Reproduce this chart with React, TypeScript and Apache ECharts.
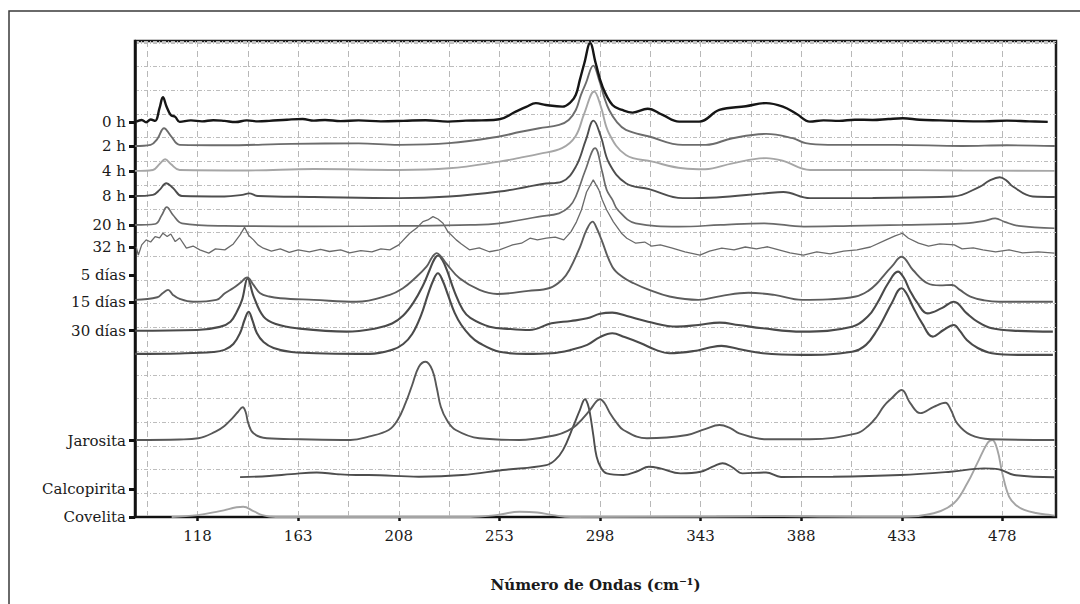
import React, { useEffect, useRef } from "react";
import * as echarts from "echarts";

// ---- axis ticks / labels ----
const xTickValues = [118, 163, 208, 253, 298, 343, 388, 433, 478];
const xGridValues = [95.5, 118, 140.5, 163, 185.5, 208, 230.5, 253, 275.5, 298, 320.5, 343, 365.5, 388, 410.5, 433, 455.5, 478];
const yLabelNames = ["0 h", "2 h", "4 h", "8 h", "20 h", "32 h", "5 días", "15 días", "30 días", "Jarosita", "Calcopirita", "Covelita"];
const yLabelValues = [166.5, 156.5, 146, 135.4, 123.2, 113.8, 102.1, 90.8, 78.6, 32.2, 11.7, 0];

// ---- spectra: [wavenumber cm-1, stacked intensity] ----
const s0h = [[90.5,166.8],[93,167.5],[95,166.5],[97,167.7],[99,167.1],[101,172.6],[102.5,177.1],[104,173.4],[106,169.6],[108,168.8],[110,166.7],[115,167.3],[120,166.9],[125,167.4],[130,167.1],[135,166.6],[140,167.3],[145,166.9],[150,167.1],[158,167.6],[165,167.9],[170,167.2],[175,167.5],[182,167.0],[190,167.3],[200,166.9],[210,167.1],[220,167.4],[230,166.8],[238,167.2],[245,167.3],[253,167.8],[260.3,171.0],[265,173.0],[269.3,174.6],[273.8,173.8],[281.2,173.1],[285,175.1],[287.2,178.1],[289,184.4],[291,191.4],[293.6,199.9],[296.1,191.4],[299.1,181.6],[303.6,173.8],[308,171.7],[312.6,170.6],[319.3,172.2],[326,169.6],[333.4,166.8],[342.4,166.8],[351.4,171.7],[363.3,173.3],[372.3,174.6],[379.8,173.1],[386,170.0],[391.9,166.8],[398,167.3],[405,167.1],[412,167.6],[420,167.5],[427,167.9],[433.5,168.2],[441,167.6],[450,167.3],[460,167.0],[470,166.9],[480,167.2],[490,166.9],[498.3,166.7]];
const s2h = [[90,156.5],[97,157.0],[100,159.5],[103,164.0],[106,160.8],[110,157.0],[130,156.8],[160,157.4],[190,157.6],[208,157.0],[230.5,157.7],[253,160.5],[262,162.4],[270.8,164.0],[279.7,165.4],[284,167.5],[287.2,171.7],[289.5,178.1],[291.7,183.0],[295,190.4],[297.6,184.4],[300,176.8],[302.1,171.7],[305.5,166.7],[309.6,163.3],[320,160.5],[335,157.0],[345.4,157.0],[357.3,159.8],[372.3,161.6],[384.2,159.8],[390,157.7],[400,157.0],[430,157.0],[460,156.5],[480,156.8],[501.5,156.5]];
const s4h = [[90,146.0],[98,146.4],[101,148.9],[103.5,150.9],[106,148.9],[110,146.4],[140,146.2],[170,146.8],[208,146.4],[230.5,147.1],[253,149.9],[262,151.5],[270.8,153.2],[281,155.6],[287,160.5],[291,170.3],[295.4,179.5],[298.4,173.1],[302,161.9],[309.6,152.7],[321.5,149.9],[335,147.1],[345,146.7],[357.3,149.2],[372.3,151.4],[380,150.2],[392,146.4],[420,146.4],[460,146.2],[501.5,146.0]];
const s8h = [[90,135.4],[98,135.9],[101,138.0],[104,140.8],[107,138.8],[111,135.4],[130,135.2],[138,135.9],[141,136.5],[145,135.4],[170,135.0],[208,134.5],[230.5,135.2],[253,137.3],[265,139.2],[272.3,140.5],[281,141.5],[287.2,147.8],[291.7,159.1],[295.1,167.2],[298.4,160.5],[302.1,149.2],[309.6,140.8],[320,138.3],[335,134.5],[350,134.8],[372.3,136.6],[380,137.1],[392,134.5],[420,134.6],[456,135.2],[468,139.4],[472,141.8],[476.8,143.3],[480,141.8],[482.7,139.4],[491.6,135.2],[501.5,135.0]];
const s20h = [[90,123.2],[99,123.6],[102,127.4],[104.2,130.7],[107,127.4],[111,123.9],[130,122.8],[170,122.6],[210,122.8],[240,123.2],[253,123.9],[270.8,126.7],[279.7,128.1],[284.3,130.9],[287.2,135.2],[291.5,146.4],[295.8,155.6],[299,145.6],[301,138.0],[303.6,133.8],[306,129.5],[314,123.9],[333.3,122.5],[352,123.2],[371.6,123.9],[389.2,122.5],[410,122.8],[433.3,123.2],[461.2,123.9],[470,124.9],[474.8,126.0],[479,124.5],[485.3,122.8],[501.3,121.8]];
const s32h = [[90.5,114.0],[91.5,110.5],[93,114.8],[95,116.9],[97,116.0],[99,118.3],[101,117.7],[102.5,119.7],[104.4,118.3],[106,119.4],[108,116.2],[110,117.7],[113,113.4],[116,114.3],[119,112.7],[123,111.3],[126,113.1],[130.2,112.7],[134,115.2],[137,119.0],[139,122.2],[141,118.6],[143,116.9],[145,114.8],[147.4,113.4],[151,112.2],[155,113.1],[159,111.6],[163,112.7],[168,111.8],[173,112.9],[177,112.0],[182,112.7],[186,111.4],[191,112.4],[196,111.8],[200,113.1],[204,112.7],[208,114.8],[212.9,119.7],[216,121.9],[218.8,124.6],[221,125.3],[223.3,126.7],[225.5,125.7],[227.8,123.9],[230,120.3],[233.7,116.9],[236,115.2],[239.6,112.7],[244,113.5],[248.5,111.9],[253,112.7],[258.9,114.8],[262.9,115.5],[266.7,117.6],[270,116.9],[274,117.6],[278,118.1],[281.8,116.9],[285,120.3],[287.5,124.5],[289.7,129.5],[292,137.1],[295,142.2],[297.5,138.0],[299,133.8],[301,129.5],[304,124.5],[307.6,119.7],[310,117.6],[314,115.5],[318,116.0],[321,114.3],[325,114.8],[330,113.5],[336,111.8],[342.7,110.5],[347,112.2],[352.5,113.4],[358,112.7],[363,113.9],[368,113.1],[373,114.0],[378,112.7],[383,111.4],[389,110.5],[395,111.8],[401,111.0],[407,112.2],[413,112.7],[419,113.9],[426,116.9],[430,118.6],[433.3,119.7],[436,117.6],[440.5,115.5],[445,114.3],[450,115.2],[456.5,114.8],[460,113.1],[465,113.5],[469.3,112.7],[475,111.8],[481,112.7],[487,111.4],[494,111.8],[501.3,111.3]];
const s5d = [[90,91.6],[100,92.7],[102.5,94.5],[104.8,95.8],[107,93.7],[110,92.0],[116,90.8],[126.4,91.6],[130.2,94.4],[134,96.6],[137,98.7],[140.2,101.1],[143,97.9],[146,94.4],[150,93.0],[155,92.3],[170,91.6],[189,90.8],[204,93.7],[210,96.6],[214.4,100.0],[220.4,105.6],[223,109.7],[225,111.3],[227,109.7],[229.2,107.0],[235.2,100.7],[244.1,95.8],[252,94.1],[266,95.4],[275.5,96.6],[281,100.0],[284.3,104.2],[289.1,114.0],[292,121.1],[294.7,124.6],[296.5,121.9],[298.7,116.9],[303.5,105.6],[308,101.3],[313.1,98.6],[320,95.8],[329.1,93.0],[342,91.6],[352,93.2],[364.4,94.6],[376,93.7],[388.4,91.6],[400,91.8],[412.4,93.0],[418,95.4],[422,98.6],[425.5,102.5],[428.5,105.6],[432.9,109.8],[438,104.2],[444.5,98.6],[450,97.7],[455.6,97.9],[459,95.8],[463.7,93.0],[470,91.4],[476.5,90.8],[500.6,90.8]];
const s15d = [[90,78.6],[117.8,78.9],[128,80.2],[132.7,82.4],[135.5,86.5],[137.9,91.6],[140.4,100.6],[143.1,93.0],[147.5,84.5],[153,81.4],[162.4,79.6],[184.6,78.2],[198,79.6],[205,81.6],[210,85.0],[214.4,90.2],[218.5,97.0],[221.8,104.2],[224,108.9],[225.6,110.3],[227.5,108.4],[229.5,104.2],[233,94.9],[236.7,87.3],[240,84.0],[248.6,80.3],[258,79.3],[266.5,78.9],[276.3,81.7],[285,82.7],[292.3,83.8],[298,85.7],[303.5,86.2],[310,84.8],[319.5,82.4],[332.4,80.3],[342,81.0],[351.6,82.0],[360,81.0],[370.8,79.6],[388.4,78.2],[410.8,80.3],[418,84.8],[422,90.2],[426.9,98.6],[431.3,103.5],[434,100.8],[436.5,95.8],[440,90.3],[444.5,85.9],[450.9,88.1],[456.3,90.8],[462.1,85.9],[467,82.3],[473.3,79.6],[485,78.5],[500.6,78.2]];
const s30d = [[90,68.8],[110,69.0],[125,69.6],[130,70.5],[134,73.0],[137,77.6],[139,83.1],[140.8,86.6],[142.5,83.1],[144.5,77.6],[147.5,73.8],[152,71.3],[160,69.6],[175,69.0],[195,68.8],[205,70.5],[210,73.0],[214,77.2],[218,85.2],[221,93.7],[223.5,100.0],[225.5,102.8],[227.5,100.0],[230,93.7],[233,86.1],[236,81.0],[240,76.4],[244,73.4],[253,69.7],[265,68.8],[276.3,69.1],[285,70.5],[292.3,72.6],[298,75.9],[303.5,77.5],[309,75.9],[316.3,73.3],[323,70.5],[329,69.1],[340,70.0],[347,71.5],[352.4,72.2],[360,70.9],[370.8,69.1],[388.4,68.4],[410.8,69.7],[417,72.6],[422,78.9],[425.5,84.8],[428.5,90.2],[432.9,96.5],[435,94.5],[438,88.7],[442,81.9],[446.9,76.1],[451.7,78.9],[456.3,81.0],[459,78.5],[462.1,74.7],[467,71.3],[473.3,69.1],[485,68.4],[500.6,68.4]];
const sJarosita = [[90.5,32.5],[110,32.7],[118.3,33.2],[126,36.0],[130,38.4],[133.5,41.6],[136,44.3],[138.2,46.3],[139.5,44.3],[140.7,39.5],[143,35.3],[149,33.2],[164,32.8],[186.4,32.5],[194.5,33.9],[203.5,36.7],[207.5,40.9],[211,48.0],[214,55.7],[217,63.4],[220,65.5],[223,62.0],[225,54.4],[226.8,46.5],[229.5,40.9],[233.5,36.7],[244,33.2],[262,32.5],[278.5,34.6],[283.5,36.3],[287.5,38.8],[293.5,45.1],[296.5,48.9],[298,49.7],[300,48.1],[302.5,43.8],[305.5,39.7],[308.5,36.7],[319,33.2],[337,34.6],[345,37.1],[351.5,38.8],[356.5,37.4],[360.3,35.3],[372.3,32.8],[391.8,32.8],[412.8,35.3],[418,38.4],[421.8,42.3],[425,46.8],[428.5,50.1],[433,53.6],[436.8,48.0],[441.3,43.8],[447.3,46.5],[452.5,48.2],[455,45.1],[457.8,39.5],[463.8,34.6],[472.8,32.8],[501.3,32.5]];
const sCalcopirita = [[137,16.8],[150,17.3],[160,18.1],[171.3,18.8],[180,18.1],[189,17.7],[194.5,17.7],[217,17.0],[236.5,17.7],[254.5,19.8],[274,21.9],[278,24.1],[281.5,28.3],[286,38.1],[289,45.1],[291.3,49.7],[292.5,47.7],[293.5,43.8],[295,34.6],[296.5,25.4],[298.5,20.7],[301,18.4],[308.5,17.7],[315,19.4],[319.8,21.2],[325,20.5],[334,18.4],[343,19.1],[349,21.5],[352.8,22.7],[357,21.1],[361.8,18.4],[372.3,18.8],[379,16.9],[402.3,17.0],[432.3,17.7],[454.8,19.1],[469.8,20.5],[476.5,20.1],[483.3,17.7],[501.3,16.8]];
const sCovelita = [[106.4,0],[118,0.8],[128,2.5],[138.4,4.3],[143,2.5],[147,0.8],[153,0],[240,0],[251.5,0.8],[262,2.2],[270,1.9],[277,0.8],[285,0],[350,0.2],[380,0.4],[400,0.2],[432.3,0.1],[447.3,1.6],[456.3,5.8],[462.3,14.2],[466.8,22.7],[471.3,31.1],[473.5,32.5],[475.8,28.3],[478,18.4],[481,8.6],[484,5.1],[487.8,3.0],[493,1.7],[499.8,0.8],[501.5,0.6]];

const seriesNames = ["0 h", "2 h", "4 h", "8 h", "20 h", "32 h", "5 días", "15 días", "30 días", "Jarosita", "Calcopirita", "Covelita"];
const seriesData = [s0h, s2h, s4h, s8h, s20h, s32h, s5d, s15d, s30d, sJarosita, sCalcopirita, sCovelita];

const styles = [
  { color: "#161616", width: 2.4, smooth: 0.4 },
  { color: "#6c6c6c", width: 1.9, smooth: 0.4 },
  { color: "#a6a6a6", width: 1.9, smooth: 0.4 },
  { color: "#4e4e4e", width: 1.9, smooth: 0.4 },
  { color: "#6a6a6a", width: 1.7, smooth: 0.4 },
  { color: "#6a6a6a", width: 1.3, smooth: false },
  { color: "#5c5c5c", width: 1.9, smooth: 0.4 },
  { color: "#4a4a4a", width: 2.1, smooth: 0.4 },
  { color: "#4a4a4a", width: 2.1, smooth: 0.4 },
  { color: "#585858", width: 1.9, smooth: 0.4 },
  { color: "#4e4e4e", width: 1.9, smooth: 0.4 },
  { color: "#a4a4a4", width: 1.9, smooth: 0.4 },
];

const FONT = "DejaVu Serif";

export default function App() {
  const ref = useRef<HTMLDivElement>(null);
  useEffect(() => {
    document.body.style.margin = "0";
    if (!ref.current) return;
    const chart = echarts.init(ref.current, undefined, { renderer: "svg" });
    const labelFor = (v: number) => {
      for (let i = 0; i < yLabelValues.length; i++) {
        if (Math.abs(yLabelValues[i] - v) < 0.01) return yLabelNames[i];
      }
      return "";
    };
    chart.setOption({
      animation: false,
      backgroundColor: "#ffffff",
      graphic: [
        {
          type: "rect",
          silent: true,
          shape: { x: 9, y: 11, width: 1200, height: 800 },
          style: { fill: "none", stroke: "#3a3a3a", lineWidth: 1.5 },
        },
      ],
      grid: {
        left: 135,
        right: 24,
        top: 41,
        bottom: 87,
        show: true,
        borderColor: "#1e1e1e",
        borderWidth: 2.5,
        containLabel: false,
      },
      xAxis: [
        {
          type: "value",
          min: 90,
          max: 502,
          position: "bottom",
          axisLine: { show: true, lineStyle: { color: "#111", width: 2 } },
          axisTick: { show: true, customValues: xTickValues, length: 4, lineStyle: { color: "#111", width: 2.5 } },
          axisLabel: { customValues: xTickValues, margin: 11, fontFamily: FONT, fontSize: 15, color: "#1a1a1a" },
          splitLine: { show: false },
          name: "Número de Ondas (cm⁻¹)",
          nameLocation: "middle",
          nameGap: 60,
          nameTextStyle: { fontFamily: FONT, fontSize: 15, fontWeight: "bold", color: "#1a1a1a" },
        },
        {
          type: "value",
          min: 90,
          max: 502,
          position: "bottom",
          axisLine: { show: false },
          axisTick: { show: false, customValues: xGridValues },
          axisLabel: { show: false, customValues: xGridValues },
          splitLine: { show: true, lineStyle: { color: "#b8b8b8", width: 1, type: [6, 4] } },
        },
      ],
      yAxis: [
        {
          type: "value",
          min: 0,
          max: 200.8,
          interval: 10,
          axisLine: { show: false },
          axisTick: { show: false },
          axisLabel: { show: false },
          splitLine: { show: true, lineStyle: { color: "#bdbdbd", width: 1, type: [4, 2, 1, 2] } },
        },
        {
          type: "value",
          min: 0,
          max: 200.8,
          position: "left",
          axisLine: { show: true, lineStyle: { color: "#111", width: 2.5 } },
          axisTick: { show: true, customValues: yLabelValues, length: 6, lineStyle: { color: "#111", width: 3 } },
          axisLabel: {
            customValues: yLabelValues,
            formatter: (v: number) => labelFor(v),
            margin: 9,
            fontFamily: FONT,
            fontSize: 15,
            color: "#1a1a1a",
          },
          splitLine: { show: false },
        },
      ],
      series: seriesData.map((d, i) => ({
        name: seriesNames[i],
        type: "line",
        xAxisIndex: 0,
        yAxisIndex: 0,
        data: d,
        showSymbol: false,
        symbol: "none",
        smooth: styles[i].smooth,
        lineStyle: { color: styles[i].color, width: styles[i].width },
        z: 20 - i,
        silent: true,
      })),
    });
    return () => chart.dispose();
  }, []);
  return <div ref={ref} style={{ width: 1080, height: 604 }} />;
}
